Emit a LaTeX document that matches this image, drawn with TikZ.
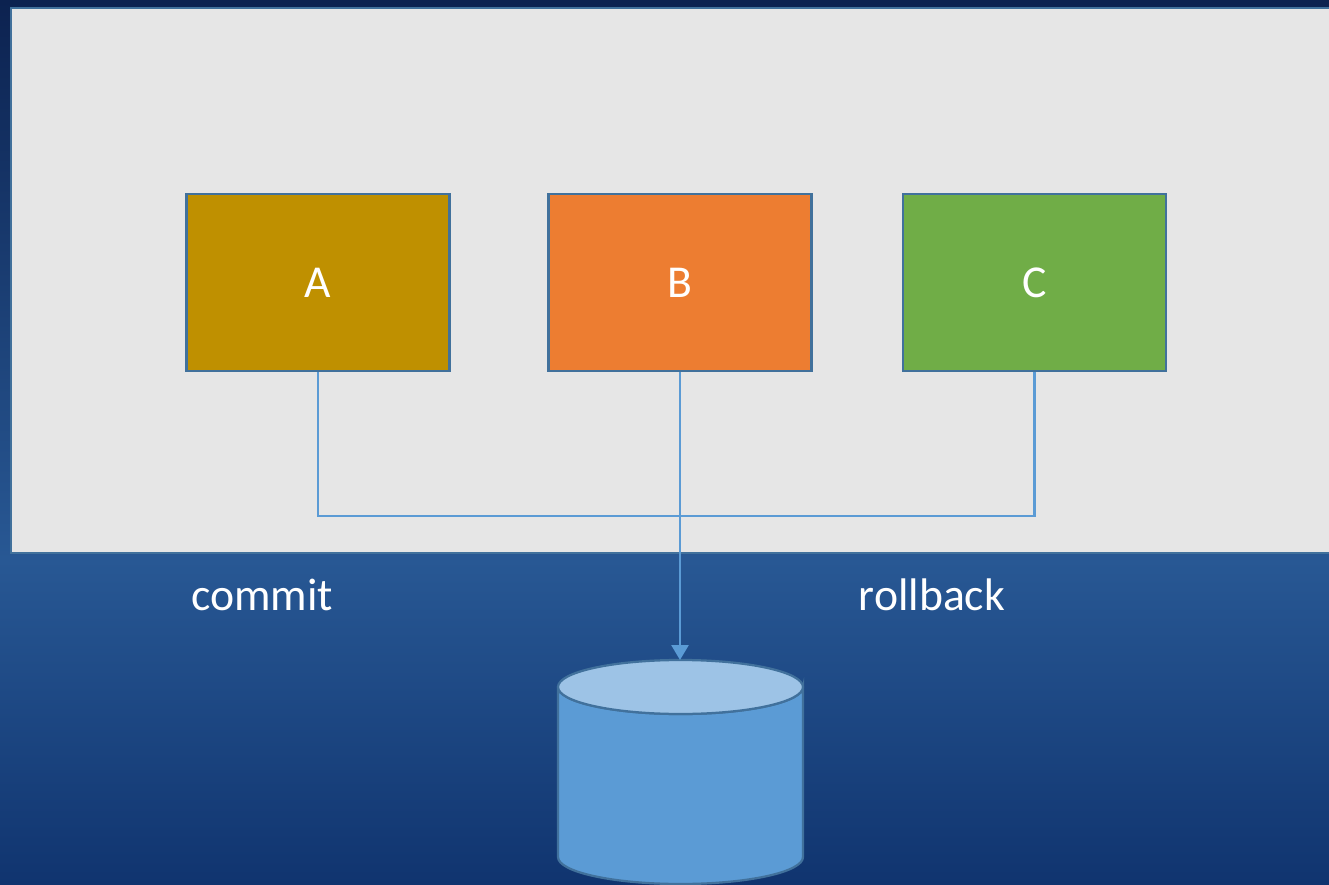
\documentclass[tikz,border=0pt]{standalone}
\usepackage{xcolor}
\usepackage{fontspec}
\setmainfont{Carlito}
\usepackage{tikz}
\usetikzlibrary{shapes,arrows.meta,positioning}

\definecolor{panelgray}{HTML}{E6E6E6}
\definecolor{edgeblue}{HTML}{41719C}
\definecolor{wireblue}{HTML}{5B9BD5}
\definecolor{dbtop}{HTML}{9DC3E6}
\definecolor{svcA}{HTML}{BF9000}
\definecolor{svcB}{HTML}{ED7D31}
\definecolor{svcC}{HTML}{70AD47}
\definecolor{skytop}{HTML}{0C2250}
\definecolor{skymid}{HTML}{285894}
\definecolor{skylow}{HTML}{10346F}

\begin{document}
\begin{tikzpicture}[
        x=0.02cm,
        y=-0.02cm,
        service/.style={
            draw=edgeblue,
            line width=0.05cm,
            minimum width=5.26cm,
            minimum height=3.54cm,
            text=white,
            font=\fontsize{26}{31}\selectfont
        },
        wire/.style={
            draw=wireblue,
            line width=0.055cm
        },
        caption/.style={
            text=white,
            font=\fontsize{26}{31}\selectfont
        },
        dbpart/.style={
            draw=edgeblue,
            line width=0.045cm
        }
    ]
                \clip (0,0) rectangle (1329,885);

                \shade[
                    top color=skytop,
                    bottom color=skymid
                    ] (0,0) rectangle (1329,560);

                \shade[
                    top color=skymid,
                    bottom color=skylow
                    ] (0,560) rectangle (1329,885);

                \draw[
                    line width=0.04cm,
                    draw=edgeblue,
                    fill=panelgray
                    ] (11,8) rectangle (1345,553);

                \node[service, fill=svcA] (A) at (318,282.5) {A};
                \node[service, fill=svcB] (B) at (680,282.5) {B};
                \node[service, fill=svcC] (C) at (1034.5,282.5) {C};

                \draw[
                    dbpart,
                    fill=wireblue
                    ] (558,687) -- (558,857)
                    arc[start angle=180, end angle=0, x radius=122.5, y radius=27]
                    -- (803,687)
                    arc[start angle=0, end angle=180, x radius=122.5, y radius=27]
                    -- cycle;

                \draw[
                    dbpart,
                    fill=dbtop
                    ] (680.5,687) ellipse[x radius=122.5, y radius=27];

                \coordinate (db) at (680,660);

                \node[caption] (commit) at (262,595) {commit};
                \node[caption] (rollback) at (932,595) {rollback};

                \coordinate (join) at (680,516);

                \draw[wire] (A.south) |- (join) -| (C.south);

                \draw[
                    wire,
                    -{Triangle[width=0.34cm,length=0.3cm]}
                    ] (B.south) to (db);

            \end{tikzpicture}
\end{document}
